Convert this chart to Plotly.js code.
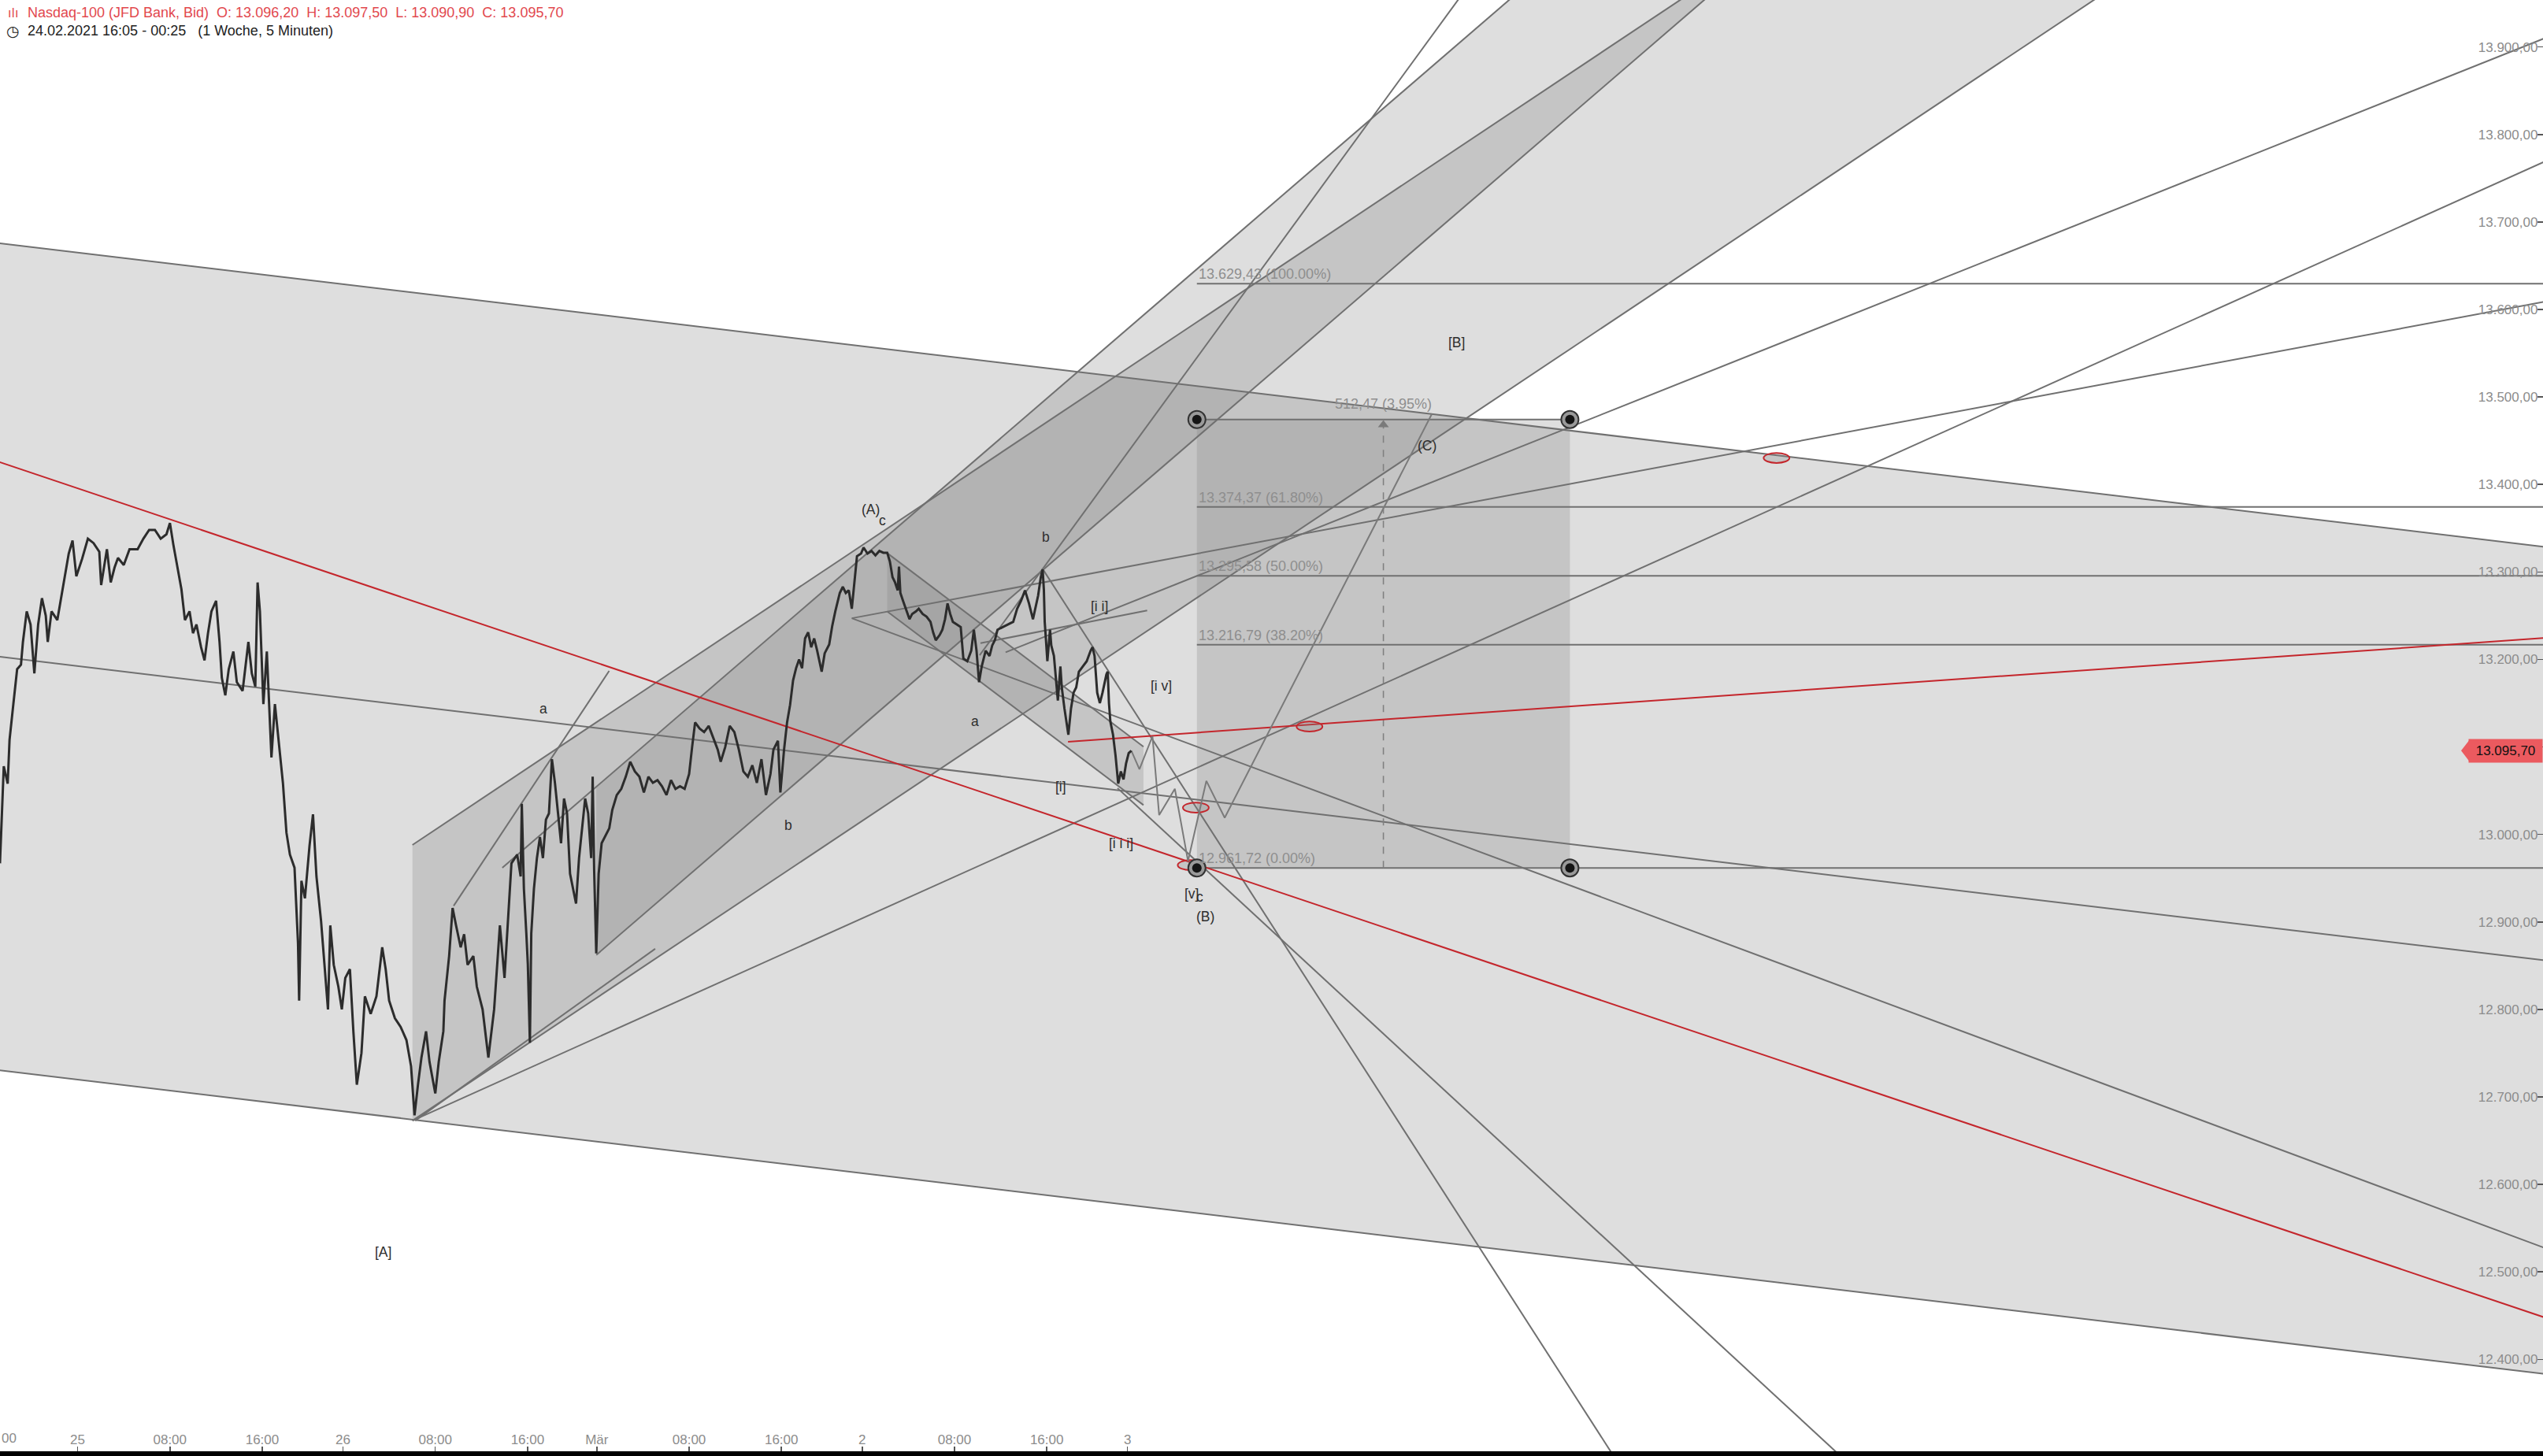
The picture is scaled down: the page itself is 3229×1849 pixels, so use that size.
<!DOCTYPE html>
<html>
<head>
<meta charset="utf-8">
<script src="https://cdn.plot.ly/plotly-3.0.1.min.js"></script>
<style>html,body{margin:0;padding:0;background:#fff;}#chart{width:3229px;height:1849px;}</style>
</head>
<body>
<div id="chart"></div>
<script>
// ---------- DATA (time = trading hours since 24.02. 16:00, price = index points) ----------
const priceTime = [0.27,0.60,0.94,1.10,1.43,1.76,2.09,2.26,2.59,2.92,3.25,3.58,3.91,4.24,4.41,4.74,5.24,5.57,5.90,6.23,6.56,6.89,7.39,7.89,8.38,8.88,9.04,9.54,9.87,10.2,10.5,11.0,11.5,12.2,12.7,13.2,13.7,14.2,14.7,15.0,15.3,15.7,16.0,16.3,16.7,17.0,17.3,17.7,18.0,18.3,18.6,19.0,19.3,19.5,19.8,20.1,20.5,20.8,21.3,21.8,22.1,22.4,22.6,22.8,23.1,23.4,23.8,24.1,24.4,24.8,25.1,25.4,25.8,26.1,26.2,26.4,26.7,27.1,27.4,27.7,28.1,28.4,28.7,28.9,29.2,29.6,29.9,30.2,30.6,30.9,31.2,31.6,31.9,32.4,32.9,33.4,33.7,34.0,34.5,35.0,35.5,35.9,36.2,36.5,36.8,37.2,37.5,38.0,38.3,38.7,38.8,39.2,39.5,39.8,40.2,40.5,40.8,41.3,41.6,42.1,42.6,43.1,43.6,44.0,44.3,44.6,45.1,45.4,45.5,
45.68,45.89,46.02,46.2,46.32,46.55,46.81,47.07,47.33,47.59,47.85,48.11,48.37,48.64,48.90,49.16,49.42,49.68,50.07,50.20,50.46,50.73,50.99,51.25,51.51,51.64,51.77,51.95,52.16,52.42,52.68,53.08,53.34,53.73,54.12,54.51,54.90,55.30,55.69,56.08,56.47,56.86,57.26,57.65,58.04,58.43,58.82,59.21,59.61,60.00,60.26,60.52,60.91,61.30,61.70,62.09,62.48,62.74,63.13,63.52,63.92,64.31,64.70,65.09,65.48,65.87,66.27,66.66,67.05,67.31,67.70,67.91,68.23,68.49,68.75,69.01,69.27,69.53,69.79,70.05,70.32,70.58,70.84,71.10,71.49,71.75,72.14,72.40,72.67,73.06,73.32,73.58,73.84,74.10,74.36,
74.55,74.90,75.12,75.46,75.81,76.15,76.49,76.83,77.17,77.40,77.63,77.85,78.08,78.19,78.31,78.54,78.76,79.10,79.33,79.67,79.90,80.24,80.58,80.92,81.15,81.38,81.72,81.95,82.18,82.40,82.63,82.86,83.20,83.54,83.77,84.11,84.45,84.68,84.91,85.13,85.36,85.70,86.04,86.27,86.50,86.73,87.18,87.64,88.09,88.43,88.77,89.11,89.46,89.80,90.02,90.25,90.48,90.64,90.75,90.82,90.93,91.05,91.28,91.39,91.62,91.84,91.96,92.18,92.30,92.53,92.75,92.87,93.10,93.32,93.55,93.78,94.12,94.46,94.80,94.96,95.14,95.37,95.60,95.83,96.17,96.28,96.39,96.51,96.74,96.96,97.19,97.42,97.65,97.87,98.10,98.33];
const priceClose = [12967,13078,13058,13108,13149,13189,13194,13220,13255,13240,13184,13240,13270,13250,13220,13255,13245,13270,13295,13321,13336,13295,13315,13338,13333,13323,13285,13326,13288,13305,13316,13308,13326,13326,13338,13348,13348,13338,13343,13356,13331,13300,13280,13245,13255,13230,13240,13214,13199,13230,13255,13267,13220,13179,13159,13189,13209,13174,13164,13220,13184,13169,13288,13255,13149,13209,13088,13149,13108,13058,13002,12977,12962,12876,12810,12947,12927,12987,13023,12952,12901,12851,12800,12896,12851,12826,12800,12836,12846,12775,12714,12750,12815,12795,12815,12871,12846,12810,12790,12780,12765,12735,12679,12714,12745,12775,12740,12704,12740,12775,12810,12861,12916,12896,12871,12886,12851,12861,12826,12800,12745,12800,12896,12836,12906,12967,12977,12952,13035,
12938,12887,12852,12762,12887,12938,12973,12997,12973,13017,13024,13086,13059,13024,12990,13041,13024,12955,12928,12921,12973,13007,13041,13024,12973,13066,12959,12864,12955,12990,12997,13007,13028,13045,13052,13066,13083,13072,13066,13048,13066,13059,13062,13055,13045,13062,13052,13055,13052,13069,13100,13128,13121,13117,13124,13110,13097,13083,13100,13124,13117,13097,13072,13066,13079,13059,13086,13045,13069,13097,13107,13048,13097,13128,13148,13176,13190,13200,13190,13224,13231,13214,13224,13210,13186,13207,13217,13238,13255,13276,13283,13276,13279,13258,13290,
13318,13321,13328,13321,13324,13319,13324,13322,13322,13312,13294,13288,13279,13306,13276,13267,13258,13246,13252,13255,13258,13252,13249,13243,13231,13222,13228,13234,13246,13264,13252,13243,13240,13237,13201,13198,13210,13234,13210,13174,13192,13210,13204,13216,13222,13234,13237,13240,13243,13258,13267,13279,13264,13246,13258,13273,13294,13303,13279,13243,13222,13198,13234,13216,13204,13174,13153,13192,13168,13144,13123,13114,13144,13162,13168,13186,13192,13198,13210,13214,13204,13162,13150,13162,13183,13186,13150,13129,13114,13090,13058,13072,13063,13081,13093,13095.7];

const tickHours  = [7,15,23,30,38,46,52,60,68,75,83,91,98];
const tickLabels = ["25","08:00","16:00","26","08:00","16:00","Mär","08:00","16:00","2","08:00","16:00","3"];
const cutTickLabel = "00"; // right half of the 16:00 label cut off at the left edge

const quoteName = "Nasdaq-100 (JFD Bank, Bid)";
const quoteOHLC = [13096.20, 13097.50, 13090.90, 13095.70];
const quoteKeys = ["O:", "H:", "L:", "C:"];
const periodText = "24.02.2021 16:05 - 00:25   (1 Woche, 5 Minuten)";

// drawing anchors [time, price]
const bigChannelTop    = [[-3,13680.8],[224,13323.7]];
const bigChannelMid    = [[-3,13208.15],[224,12851.05]];
const bigChannelBottom = [[-3,12735.5],[224,12378.4]];
const redLineDown = [[-3,13439.9],[224,12433.9]];
const redLineUp   = [[92.84,13106.0],[224,13227.5]];

const channelBPoly = [[36.02,12988.0],[162.54,14100],[198.40,14100],[36.02,12672.9]];
const channelAPoly = [[51.96,13054.5],[143.94,14100],[160.85,14100],[51.96,12862.3]];
const channelATopStart = [43.81,12961.9];
const corrPoly = [[77.17,13321.6],[99.38,13100.3],[99.38,13033.6],[77.17,13254.9]];

const trendLines = [
  [[36.26,12672.9],[57.06,12869.3]],
  [[39.59,12918.4],[53.07,13186.9]],
  [[36.02,12672.9],[224,13787.8]],
  [[74.10,13247.1],[224,13616.8]],
  [[74.10,13247.1],[224,12511.8]],
  [[87.43,13208.2],[224,13926.7]],
  [[85.18,13204.8],[134.74,14100]],
  [[90.66,13303.1],[144.5,12200]],
  [[97.13,13052.9],[167.15,12200]],
  [[85.25,13218.6],[99.70,13256.0]]
];

const projTime  = [98.33,99.03,100.16,100.74,102.10,103.24,104.83,106.42,124.39];
const projPrice = [13095.7,13074.5,13112.2,13022.1,13052.1,12969.6,13061.2,13019.1,13481.0];

const fibLevels = [13629.43,13374.37,13295.58,13216.79,12961.72];
const fibPct    = ["100.00%","61.80%","50.00%","38.20%","0.00%"];
const fibStart  = 104.01, fibEnd = 224;

const rangeTime  = [104.01,136.34];
const rangePrice = [12961.72,13474.19];

const markTime  = [113.77,103.92,103.47,154.25];
const markPrice = [13123.3,13030.6,12964.9,13430.3];

const waveText  = ["[A]","a","b","(A)","c","b","a","[i i]","[i v]","[i]","[i i i]","[v]","c","(B)","(C)","[B]"];
const waveTime  = [33.45,47.36,68.59,75.76,76.74,90.94,84.76,95.58,100.92,92.21,97.41,103.55,104.25,104.72,123.98,126.5];
const wavePrice = [12522.7,13143.7,13010.3,13371.7,13358.7,13340.1,13128.9,13260.4,13169.6,13054.7,12989.8,12932.0,12929.0,12906.0,13444.0,13562.6];

// ---------- helpers ----------
function de(v){
  const s = v.toFixed(2).split('.');
  return s[0].replace(/\B(?=(\d{3})+(?!\d))/g,'.') + ',' + s[1];
}
const GRAY='#707070', RED='#c4262c', FILL='rgba(128,128,128,0.26)';
const FONT='Liberation Sans, Arial, sans-serif';
function lineShape(a,b,color,width,dash){
  return {type:'line',xref:'x',yref:'y',x0:a[0],y0:a[1],x1:b[0],y1:b[1],layer:'below',
          line:{color:color,width:width,dash:dash||'solid'}};
}
function polyShape(pts){
  return {type:'path',xref:'x',yref:'y',layer:'below',fillcolor:FILL,line:{width:0},
          path:'M'+pts.map(p=>p[0]+','+p[1]).join(' L')+' Z'};
}

const shapes = [];
// fills
shapes.push(polyShape([bigChannelTop[0],bigChannelTop[1],bigChannelBottom[1],bigChannelBottom[0]]));
shapes.push(polyShape(channelBPoly));
shapes.push(polyShape(channelAPoly));
shapes.push(polyShape(corrPoly));
shapes.push(polyShape([[rangeTime[0],rangePrice[0]],[rangeTime[1],rangePrice[0]],[rangeTime[1],rangePrice[1]],[rangeTime[0],rangePrice[1]]]));
// big channel
[bigChannelTop,bigChannelMid,bigChannelBottom].forEach(l=>shapes.push(lineShape(l[0],l[1],GRAY,2)));
// rising channels
shapes.push(lineShape(channelBPoly[0],channelBPoly[1],GRAY,2));
shapes.push(lineShape(channelBPoly[3],channelBPoly[2],GRAY,2));
shapes.push(lineShape(channelATopStart,channelAPoly[1],GRAY,2));
shapes.push(lineShape(channelAPoly[3],channelAPoly[2],GRAY,2));
shapes.push(lineShape(corrPoly[0],corrPoly[1],GRAY,2));
shapes.push(lineShape(corrPoly[3],corrPoly[2],GRAY,2));
trendLines.forEach(l=>shapes.push(lineShape(l[0],l[1],GRAY,2)));
// fib lines
fibLevels.forEach(v=>shapes.push(lineShape([fibStart,v],[fibEnd,v],GRAY,2)));
// range box dashed
const midT = (rangeTime[0]+rangeTime[1])/2;
shapes.push(lineShape([midT,rangePrice[0]],[midT,rangePrice[1]],'#808080',1.6,'dash'));
shapes.push(lineShape([rangeTime[0],rangePrice[1]],[rangeTime[1],rangePrice[1]],GRAY,2));
// red lines
shapes.push(lineShape(redLineDown[0],redLineDown[1],RED,2));
shapes.push(lineShape(redLineUp[0],redLineUp[1],RED,2));
// red ellipses
markTime.forEach((t,i)=>shapes.push({type:'circle',xref:'x',yref:'y',layer:'below',
   x0:t-1.12,x1:t+1.12,y0:markPrice[i]-5.7,y1:markPrice[i]+5.7,fillcolor:FILL,line:{color:RED,width:2}}));
// price tag arrow
const lastPrice = priceClose[priceClose.length-1];
shapes.push({type:'path',xref:'paper',yref:'y',layer:'above',fillcolor:'#eb5a5f',line:{width:0},
  path:'M0.9713,'+(lastPrice+13.1)+' L0.9678,'+lastPrice+' L0.9713,'+(lastPrice-13.1)+' Z'});

// ---------- traces ----------
const traces = [
  {type:'scatter',mode:'lines',x:projTime,y:projPrice,line:{color:'#7a7a7a',width:2},hoverinfo:'skip'},
  {type:'scatter',mode:'lines',x:priceTime,y:priceClose,name:quoteName,line:{color:'#2c2c2c',width:3}},
  {type:'scatter',mode:'markers',x:[midT],y:[rangePrice[1]-6],marker:{symbol:'triangle-up',size:12,color:'#7a7a7a'},hoverinfo:'skip'},
  {type:'scatter',mode:'markers',x:[rangeTime[0],rangeTime[1],rangeTime[0],rangeTime[1]],
   y:[rangePrice[1],rangePrice[1],rangePrice[0],rangePrice[0]],
   marker:{size:22,color:'#9a9a9a',line:{color:'#333',width:2}},hoverinfo:'skip'},
  {type:'scatter',mode:'markers',x:[rangeTime[0],rangeTime[1],rangeTime[0],rangeTime[1]],
   y:[rangePrice[1],rangePrice[1],rangePrice[0],rangePrice[0]],
   marker:{size:12,color:'#151515'},hoverinfo:'skip'}
];

// ---------- annotations ----------
const ann = [];
waveText.forEach((t,i)=>ann.push({x:waveTime[i],y:wavePrice[i],text:t,showarrow:false,
  font:{family:FONT,size:17.5,color:'#2e2e2e'},xanchor:'center',yanchor:'middle'}));
fibLevels.forEach((v,i)=>ann.push({x:fibStart,y:v,text:de(v)+' ('+fibPct[i]+')',showarrow:false,
  font:{family:FONT,size:18,color:'#8e8e8e'},xanchor:'left',yanchor:'middle',yshift:12}));
const diff = rangePrice[1]-rangePrice[0];
const pct = diff/rangePrice[0]*100;
ann.push({x:midT,y:rangePrice[1],text:de(diff)+' ('+pct.toFixed(2).replace('.',',')+'%)',showarrow:false,
  font:{family:FONT,size:18,color:'#8e8e8e'},xanchor:'center',yanchor:'middle',yshift:20});
// header
let hdr = quoteName;
quoteOHLC.forEach((v,i)=>{hdr += '\u00a0 ' + quoteKeys[i] + ' ' + de(v);});
ann.push({xref:'paper',yref:'paper',x:33/3229,y:1-16.5/1843,text:hdr,showarrow:false,xanchor:'left',yanchor:'middle',
  font:{family:FONT,size:18,color:'#e2484e'}});
ann.push({xref:'paper',yref:'paper',x:8/3229,y:1-16.5/1843,text:'ılı',showarrow:false,xanchor:'left',yanchor:'middle',
  font:{family:'DejaVu Sans',size:16,color:'#e2484e'}});
ann.push({xref:'paper',yref:'paper',x:33/3229,y:1-39/1843,text:periodText.replace(/ {3}/,'\u00a0\u00a0 '),showarrow:false,xanchor:'left',yanchor:'middle',
  font:{family:FONT,size:18,color:'#222'}});
ann.push({xref:'paper',yref:'paper',x:6/3229,y:1-39/1843,text:'◷',showarrow:false,xanchor:'left',yanchor:'middle',
  font:{family:'DejaVu Sans',size:19,color:'#222'}});
// cut-off first tick label at the left edge
ann.push({xref:'paper',yref:'paper',x:0,y:16.5/1843,text:cutTickLabel,showarrow:false,xanchor:'left',yanchor:'middle',
  font:{family:FONT,size:17,color:'#8c8c8c'}});
// price tag
ann.push({xref:'paper',yref:'y',x:1,y:lastPrice,text:de(lastPrice),showarrow:false,xanchor:'right',yanchor:'middle',
  bgcolor:'#eb5a5f',borderpad:3,width:87,height:23,font:{family:FONT,size:17,color:'#111'}});

const layout = {
  width:3229,height:1849,
  margin:{l:0,r:0,t:0,b:6,pad:0},
  paper_bgcolor:'#000',plot_bgcolor:'#ffffff',
  showlegend:false,separators:',.',
  xaxis:{range:[0.273,220.68],tickmode:'array',tickvals:tickHours,ticktext:tickLabels,
    ticks:'inside',ticklen:6,tickwidth:1.5,tickcolor:'#555',ticklabelposition:'inside',
    tickfont:{family:FONT,size:17,color:'#8c8c8c'},showgrid:false,zeroline:false,showline:false},
  yaxis:{range:[12295,13953.7],side:'right',tick0:12300,dtick:100,tickformat:',.2f',
    ticks:'inside',ticklen:7,tickwidth:1.5,tickcolor:'#555',ticklabelposition:'inside',
    tickfont:{family:FONT,size:17,color:'#8c8c8c'},showgrid:false,zeroline:false,showline:false},
  shapes:shapes,annotations:ann
};
Plotly.newPlot('chart',traces,layout,{staticPlot:true,displayModeBar:false});
</script>
</body>
</html>
